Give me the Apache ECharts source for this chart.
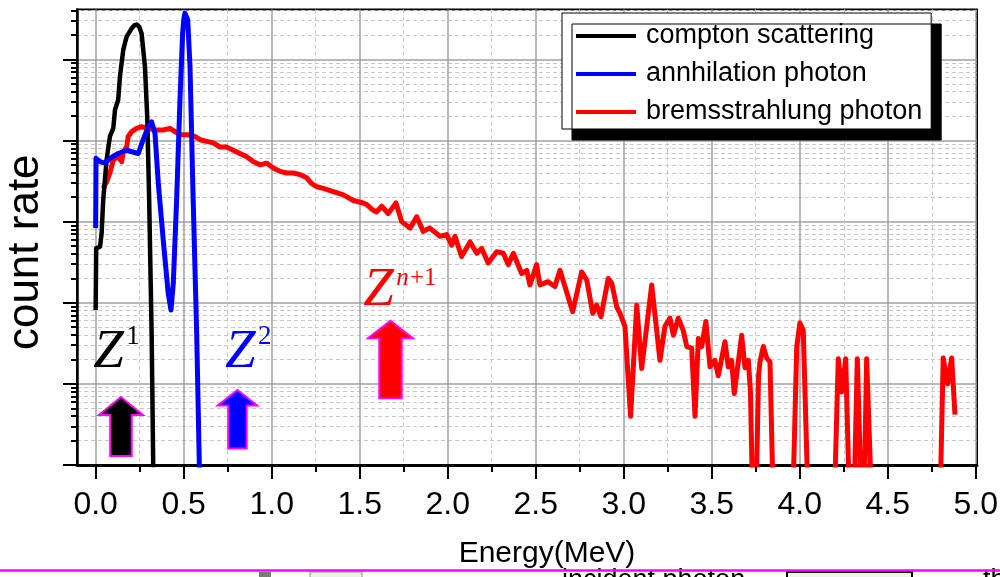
<!DOCTYPE html>
<html>
<head>
<meta charset="utf-8">
<script src="https://cdn.jsdelivr.net/npm/echarts@6/dist/echarts.min.js"></script>
<style>
  html, body { margin: 0; padding: 0; background: #ffffff; }
  #chart { width: 1000px; height: 577px; }
</style>
</head>
<body>
<div id="chart"></div>
<script>
// Spectra: [energy in MeV, log10(count rate)]. Points below 0 fall under the plot floor (no counts).
const comptonPoints = [
  [0.000, 1.91], [0.003, 2.67], [0.025, 2.69], [0.034, 2.86], [0.043, 3.27], [0.062, 3.76],
  [0.081, 4.05], [0.100, 4.15], [0.110, 4.38], [0.128, 4.50], [0.138, 4.79], [0.157, 5.12],
  [0.176, 5.28], [0.204, 5.38], [0.220, 5.42], [0.233, 5.43], [0.248, 5.40], [0.261, 5.32],
  [0.280, 4.91], [0.293, 4.29], [0.304, 3.27], [0.318, 1.62], [0.327, 0.00], [0.335, -0.50]
];

const annihilationPoints = [
  [0.000, 2.92], [0.002, 3.78], [0.024, 3.74], [0.053, 3.72], [0.081, 3.78], [0.128, 3.84],
  [0.176, 3.88], [0.242, 3.84], [0.270, 4.01], [0.299, 4.17], [0.318, 4.23], [0.337, 4.09],
  [0.356, 3.47], [0.384, 2.77], [0.412, 2.12], [0.428, 1.91], [0.441, 2.24], [0.460, 3.27],
  [0.479, 4.50], [0.494, 5.32], [0.501, 5.50], [0.507, 5.57], [0.515, 5.56], [0.523, 5.49],
  [0.536, 4.91], [0.554, 3.27], [0.574, 1.62], [0.589, 0.00], [0.600, -0.50]
];

const bremsstrahlungPoints = [
  [0.043, 3.41], [0.064, 3.50], [0.081, 3.60], [0.100, 3.76], [0.128, 3.80], [0.148, 3.74],
  [0.157, 3.86], [0.176, 3.92], [0.185, 4.05], [0.205, 4.11], [0.233, 4.15], [0.261, 4.17],
  [0.299, 4.15], [0.337, 4.13], [0.384, 4.13], [0.422, 4.15], [0.451, 4.11], [0.479, 4.07],
  [0.526, 4.07], [0.564, 4.05], [0.593, 4.01], [0.631, 3.99], [0.668, 3.97], [0.706, 3.92],
  [0.744, 3.92], [0.782, 3.88], [0.820, 3.84], [0.858, 3.80], [0.895, 3.74], [0.933, 3.70],
  [0.972, 3.72], [1.009, 3.66], [1.047, 3.62], [1.085, 3.60], [1.123, 3.60], [1.161, 3.58],
  [1.199, 3.54], [1.227, 3.47], [1.256, 3.43], [1.293, 3.41], [1.350, 3.37], [1.407, 3.33],
  [1.464, 3.26], [1.520, 3.23], [1.540, 3.21], [1.577, 3.14], [1.596, 3.12], [1.625, 3.19],
  [1.634, 3.21], [1.662, 3.10], [1.672, 3.10], [1.706, 3.23], [1.739, 3.00], [1.786, 2.92],
  [1.824, 3.06], [1.861, 2.88], [1.899, 2.92], [1.956, 2.82], [1.994, 2.84], [2.023, 2.71],
  [2.041, 2.82], [2.079, 2.57], [2.127, 2.75], [2.165, 2.61], [2.193, 2.67], [2.230, 2.49],
  [2.278, 2.63], [2.316, 2.61], [2.344, 2.47], [2.373, 2.61], [2.420, 2.36], [2.449, 2.40],
  [2.467, 2.22], [2.505, 2.47], [2.524, 2.22], [2.571, 2.26], [2.609, 2.20], [2.638, 2.40],
  [2.666, 2.20], [2.710, 1.89], [2.761, 2.38], [2.790, 2.28], [2.824, 1.87], [2.846, 1.97],
  [2.871, 1.83], [2.912, 2.30], [2.932, 2.24], [2.960, 1.95], [2.979, 1.87], [3.007, 1.71],
  [3.039, 0.60], [3.074, 1.97], [3.102, 1.19], [3.159, 2.22], [3.206, 1.29], [3.234, 1.71],
  [3.263, 1.81], [3.282, 1.60], [3.310, 1.81], [3.338, 1.66], [3.358, 1.46], [3.386, 1.44],
  [3.405, 0.60], [3.424, 1.56], [3.443, 1.46], [3.467, 1.77], [3.490, 1.21], [3.518, 1.29],
  [3.537, 1.10], [3.575, 1.52], [3.594, 1.21], [3.613, 1.29], [3.628, 0.88], [3.670, 1.60],
  [3.689, 1.20], [3.708, 1.29], [3.720, 0.90], [3.733, -0.50], [3.751, -0.50], [3.766, 1.10],
  [3.774, 1.27], [3.793, 1.46], [3.812, 1.32], [3.831, 1.27], [3.850, -0.50], [3.960, -0.50],
  [3.983, 1.46], [4.001, 1.75], [4.020, 1.66], [4.048, -0.50], [4.196, -0.50], [4.219, 1.31],
  [4.238, 0.90], [4.261, 1.31], [4.283, -0.50], [4.308, -0.50], [4.327, 1.31], [4.351, -0.50],
  [4.365, -0.50], [4.380, 1.31], [4.409, -0.50], [4.797, -0.50], [4.815, 1.32], [4.840, 1.00],
  [4.863, 1.32], [4.882, 0.62]
];

const seriesNames = ['compton scattering', 'annhilation photon', 'bremsstrahlung photon'];

// Energy axis ticks and labels
const energyTicks = [0, 0.5, 1, 1.5, 2, 2.5, 3, 3.5, 4, 4.5, 5];
const energyTickLabels = ['0.0', '0.5', '1.0', '1.5', '2.0', '2.5', '3.0', '3.5', '4.0', '4.5', '5.0'];
const energyMinorTicks = [0.25, 0.75, 1.25, 1.75, 2.25, 2.75, 3.25, 3.75, 4.25, 4.75];

// Count-rate axis: decades and 2..9 sub-decade marks (log10 space)
const decadeTicks = [0, 1, 2, 3, 4, 5];
const subDecadeFactors = [2, 3, 4, 5, 6, 7, 8, 9];

const X_MIN = -0.106, X_MAX = 5.007, Y_MAX = 5.615;

const subDecadeTicks = [];
decadeTicks.forEach(d => subDecadeFactors.forEach(k => {
  const v = d + Math.log10(k);
  if (v < Y_MAX) subDecadeTicks.push(+v.toFixed(4));
}));

const majorGrid = { show: true, lineStyle: { color: '#a0a0a0', width: 1.5, type: 'solid' } };
const minorGrid = { show: true, lineStyle: { color: '#c8c8c8', width: 1, type: [4, 3] } };
const tickStyle = { color: '#000000', width: 2 };

const chart = echarts.init(document.getElementById('chart'), null, { renderer: 'canvas' });

function lineSeries(name, points, color, width, z) {
  return {
    name, type: 'line', data: points, xAxisIndex: 0, yAxisIndex: 0,
    showSymbol: false, symbol: 'none', smooth: false, clip: true, z,
    lineStyle: { color, width, join: 'round' }, itemStyle: { color }
  };
}

const option = {
  animation: false,
  backgroundColor: '#ffffff',
  grid: {
    left: 77, top: 9.5, width: 900, height: 455.5,
    show: true, borderColor: '#000000', borderWidth: 2, backgroundColor: 'transparent',
    containLabel: false, outerBoundsMode: 'none'
  },
  legend: {
    data: seriesNames, orient: 'vertical', left: 562, top: 13,
    padding: [8, 9, 2, 14], itemGap: 8, itemWidth: 60, itemHeight: 4, icon: 'rect',
    backgroundColor: '#ffffff', borderColor: '#000000', borderWidth: 1,
    shadowColor: '#000000', shadowBlur: 0, shadowOffsetX: 10, shadowOffsetY: 11,
    selectedMode: false,
    textStyle: { fontSize: 27, fontFamily: 'Liberation Sans', color: '#000000', lineHeight: 30, padding: [0, 0, 0, 5] }
  },
  xAxis: [
    {
      type: 'value', position: 'bottom', min: X_MIN, max: X_MAX,
      axisLine: { show: true, onZero: false, lineStyle: { color: '#000000', width: 3 } },
      axisTick: { show: true, inside: false, length: 14, customValues: energyTicks, lineStyle: tickStyle },
      axisLabel: {
        show: true, customValues: energyTicks, margin: 24,
        formatter: v => energyTickLabels[energyTicks.findIndex(t => Math.abs(t - v) < 1e-6)],
        fontSize: 32, fontFamily: 'Liberation Sans', color: '#000000'
      },
      splitLine: majorGrid,
      name: 'Energy(MeV)', nameLocation: 'middle', nameGap: 74, nameMoveOverlap: false,
      nameTextStyle: { fontSize: 30, fontFamily: 'Liberation Sans', color: '#000000', padding: [0, 0, 0, 40] }
    },
    {
      type: 'value', position: 'bottom', offset: 0, min: X_MIN, max: X_MAX,
      axisLine: { show: false, onZero: false },
      axisTick: { show: true, inside: false, length: 7, customValues: energyMinorTicks, lineStyle: tickStyle },
      axisLabel: { show: false },
      splitLine: minorGrid
    }
  ],
  yAxis: [
    {
      type: 'value', position: 'left', min: 0, max: Y_MAX,
      axisLine: { show: true, onZero: false, lineStyle: { color: '#000000', width: 2.5 } },
      axisTick: { show: true, inside: false, length: 14, customValues: decadeTicks, lineStyle: tickStyle },
      axisLabel: { show: false },
      splitLine: majorGrid,
      name: 'count rate', nameLocation: 'middle', nameGap: 29, nameRotate: 90, nameMoveOverlap: false,
      nameTextStyle: { fontSize: 44, fontFamily: 'Liberation Sans', color: '#000000', padding: [0, 30, 0, 0] }
    },
    {
      type: 'value', position: 'left', offset: 0, min: 0, max: Y_MAX,
      axisLine: { show: false, onZero: false },
      axisTick: { show: true, inside: false, length: 6, customValues: subDecadeTicks, lineStyle: tickStyle },
      axisLabel: { show: false },
      splitLine: minorGrid
    }
  ],
  series: [
    lineSeries(seriesNames[2], bremsstrahlungPoints, '#ff0000', 5, 2),
    lineSeries(seriesNames[0], comptonPoints, '#000000', 4.5, 3),
    lineSeries(seriesNames[1], annihilationPoints, '#0000ff', 5, 4)
  ]
};

chart.setOption(option);

// Annotations placed in data space: interaction-order labels and block arrows
const arrowMarkers = [
  { energy: 0.1437, tipLog: 0.838, baseLog: 0.111, color: '#000000', head: 44, shaft: 21.5, headH: 18 },
  { energy: 0.8056, tipLog: 0.925, baseLog: 0.203, color: '#0000ff', head: 39.5, shaft: 18.5, headH: 15.5 },
  { energy: 1.675, tipLog: 1.779, baseLog: 0.822, color: '#ff0000', head: 45, shaft: 22.4, headH: 17.6 }
];
const orderLabels = [
  { energy: -0.0136, log: 1.150, color: '#000000', supItalic: '', sup: '1', supDy: -25 },
  { energy: 0.7346, log: 1.150, color: '#0000ff', supItalic: '', sup: '2', supDy: -25 },
  { energy: 1.520, log: 1.911, color: '#ff0000', supItalic: 'n', sup: '+1', supDy: -23.3 }
];

const toPx = (e, d) => chart.convertToPixel({ xAxisIndex: 0, yAxisIndex: 0 }, [e, d]);
const graphics = [];

arrowMarkers.forEach(m => {
  const [cx, ty] = toPx(m.energy, m.tipLog);
  const by = toPx(m.energy, m.baseLog)[1];
  const hy = ty + m.headH;
  graphics.push({
    type: 'polygon', z: 50,
    shape: { points: [
      [cx, ty], [cx + m.head / 2, hy], [cx + m.shaft / 2, hy], [cx + m.shaft / 2, by],
      [cx - m.shaft / 2, by], [cx - m.shaft / 2, hy], [cx - m.head / 2, hy]
    ] },
    style: { fill: m.color, stroke: '#ff00ff', lineWidth: 2, lineJoin: 'miter' }
  });
});

const Z_SIZE = 55, SUP_SIZE = 27, SUP_N_SIZE = 25;
orderLabels.forEach(l => {
  const [x, base] = toPx(l.energy, l.log);
  graphics.push({
    type: 'text', z: 50, x: x, y: base - 0.3465 * Z_SIZE,
    style: { text: 'Z', fontSize: Z_SIZE, fontFamily: 'Liberation Serif', fontStyle: 'italic',
             fill: l.color, align: 'left', verticalAlign: 'middle' }
  });
  const supSize = l.supItalic ? SUP_N_SIZE : SUP_SIZE;
  const sy = base + l.supDy - 0.3465 * supSize;
  let sx = x + 33;
  if (l.supItalic) {
    graphics.push({
      type: 'text', z: 50, x: sx, y: sy,
      style: { text: l.supItalic, fontSize: supSize, fontFamily: 'Liberation Serif', fontStyle: 'italic',
               fill: l.color, align: 'left', verticalAlign: 'middle' }
    });
    sx += 0.55 * supSize;
  }
  graphics.push({
    type: 'text', z: 50, x: sx, y: sy,
    style: { text: l.sup, fontSize: supSize, fontFamily: 'Liberation Serif',
             fill: l.color, align: 'left', verticalAlign: 'middle' }
  });
});

// Page edge below the figure: divider rule and the top of the next panel
graphics.push(
  { type: 'rect', z: 60, shape: { x: 259, y: 572, width: 12, height: 10 }, style: { fill: '#7a7a7a' } },
  { type: 'rect', z: 60, shape: { x: 310, y: 572, width: 52, height: 10 }, style: { fill: '#eeeeee', stroke: '#8a8a8a', lineWidth: 1 } },
  { type: 'text', z: 60, x: 562, y: 594, style: { text: 'incident photon', fontSize: 27, fontFamily: 'Liberation Sans', fill: '#000000', align: 'left', verticalAlign: 'bottom' } },
  { type: 'rect', z: 60, shape: { x: 787, y: 572, width: 125, height: 10 }, style: { fill: '#f2f2f2', stroke: '#000000', lineWidth: 2 } },
  { type: 'text', z: 60, x: 983, y: 594, style: { text: 'th', fontSize: 27, fontFamily: 'Liberation Sans', fill: '#000000', align: 'left', verticalAlign: 'bottom' } },
  { type: 'line', z: 70, shape: { x1: 0, y1: 570.5, x2: 1000, y2: 570.5 }, style: { stroke: '#ff00ff', lineWidth: 2.5 } }
);

chart.setOption({ graphic: graphics });
</script>
</body>
</html>
